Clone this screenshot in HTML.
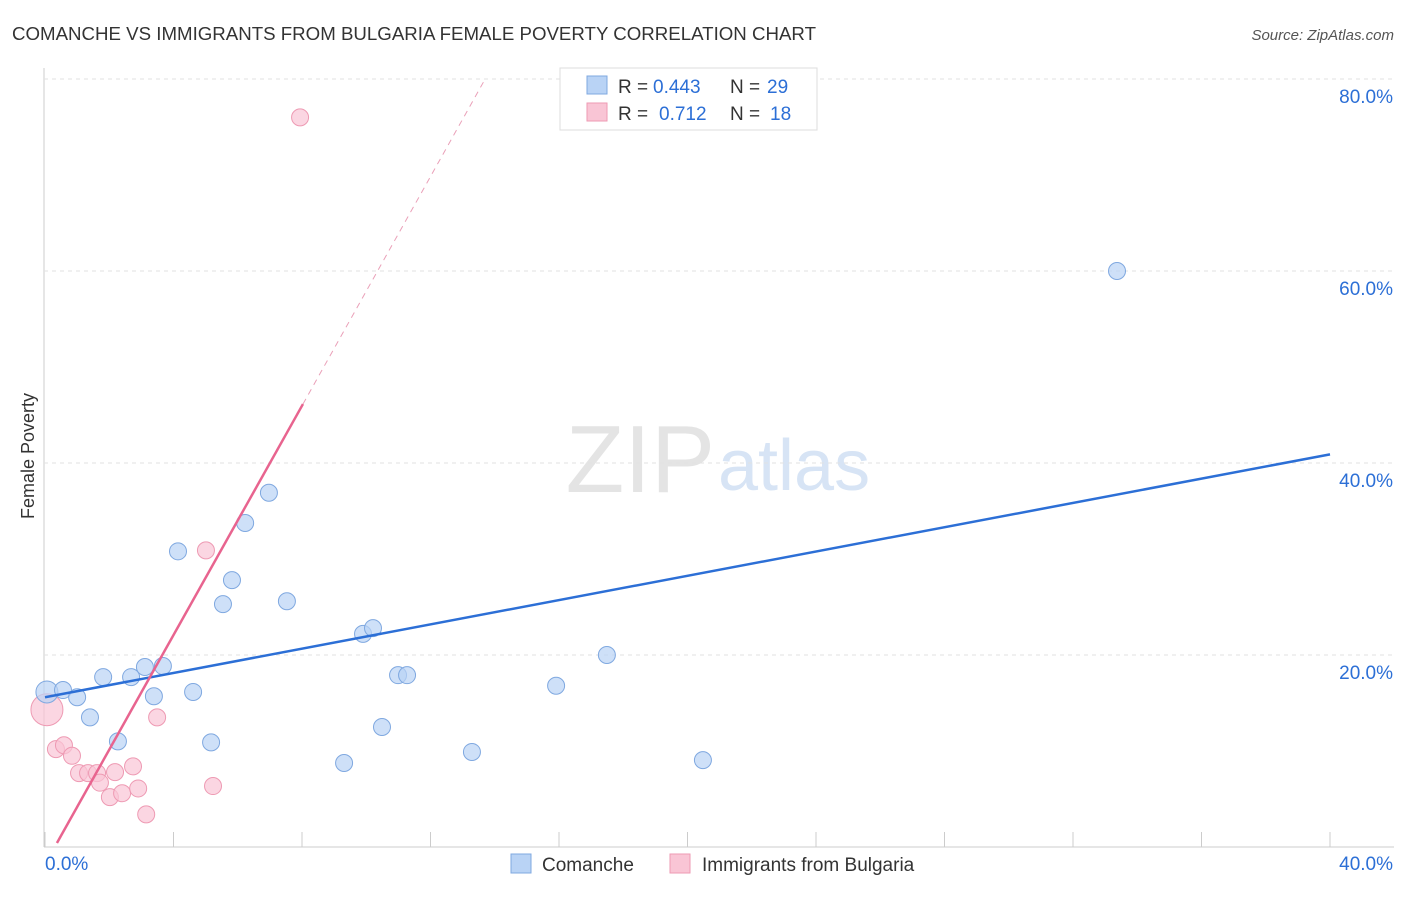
<!DOCTYPE html>
<html><head><meta charset="utf-8"><style>
body{margin:0;background:#fff;font-family:"Liberation Sans",sans-serif;}
svg text{font-family:"Liberation Sans",sans-serif;}
</style></head><body>
<svg id="c" width="1406" height="892" viewBox="0 0 1406 892">
<text x="12" y="40" font-size="18" fill="#333" textLength="804" lengthAdjust="spacingAndGlyphs">COMANCHE VS IMMIGRANTS FROM BULGARIA FEMALE POVERTY CORRELATION CHART</text>
<text x="1394" y="40" font-size="15" fill="#555" font-style="italic" text-anchor="end">Source: ZipAtlas.com</text>
<text x="715" y="492" font-size="96" fill="#e4e4e4" text-anchor="end" font-family="Liberation Serif">ZIP</text>
<text x="718" y="490" font-size="72" fill="#d7e4f5">atlas</text>
<text transform="translate(34,456) rotate(-90)" font-size="18" fill="#333" text-anchor="middle">Female Poverty</text>
<g id="grid"></g><g id="marks"></g>
<g>
<rect x="560" y="68" width="257" height="62" fill="#fff" stroke="#ddd"/>
<rect x="587" y="76" width="20" height="18" fill="#b9d3f5" stroke="#7fa8e0"/>
<rect x="587" y="103" width="20" height="18" fill="#f9c5d5" stroke="#ee9ab3"/>
<text x="618" y="93" font-size="19" fill="#333">R =</text>
<text x="653" y="93" font-size="19" fill="#2c6fd6">0.443</text>
<text x="730" y="93" font-size="19" fill="#333">N =</text>
<text x="767" y="93" font-size="19" fill="#2c6fd6">29</text>
<text x="618" y="120" font-size="19" fill="#333">R =</text>
<text x="659" y="120" font-size="19" fill="#2c6fd6">0.712</text>
<text x="730" y="120" font-size="19" fill="#333">N =</text>
<text x="770" y="120" font-size="19" fill="#2c6fd6">18</text>
</g>
<g>
<rect x="511" y="854" width="20" height="19" fill="#b9d3f5" stroke="#7fa8e0"/>
<text x="542" y="871" font-size="19" fill="#333">Comanche</text>
<rect x="670" y="854" width="20" height="19" fill="#f9c5d5" stroke="#ee9ab3"/>
<text x="702" y="871" font-size="19" fill="#333">Immigrants from Bulgaria</text>
</g>
</svg>
<script>
const xTicks=[0,40];
const yTicks=[20,40,60,80];
const blueX=[0.06,0.56,1.0,1.4,1.81,2.27,2.68,3.11,3.39,3.67,4.14,4.61,5.17,5.54,5.82,6.23,6.97,7.53,9.31,9.9,10.21,10.49,10.99,11.27,13.29,15.91,17.49,20.48,33.37];
const blueY=[16.15,16.35,15.6,13.5,17.7,11.0,17.7,18.75,15.7,18.85,30.8,16.15,10.9,25.3,27.8,33.75,36.9,25.6,8.75,22.2,22.8,12.5,17.9,17.9,9.9,16.8,20.0,9.05,60.0];
const pinkX=[0.06,0.34,0.59,0.84,1.06,1.34,1.62,1.71,2.02,2.18,2.4,2.74,2.9,3.15,3.49,5.01,5.23,7.94];
const pinkY=[14.3,10.2,10.6,9.5,7.7,7.7,7.7,6.7,5.2,7.8,5.6,8.4,6.1,3.4,13.5,30.9,6.35,76.0];
const blueFit=[15.6,0.6325];
const pinkFit=[-1.8,5.97];
const NS='http://www.w3.org/2000/svg';
const X=v=>45+v*32.125, Y=v=>847-v*9.6;
function mk(t,a,p){const e=document.createElementNS(NS,t);for(const k in a)e.setAttribute(k,a[k]);p.appendChild(e);return e;}
const g=document.getElementById('grid'),m=document.getElementById('marks');
mk('line',{x1:44,y1:68,x2:44,y2:847,stroke:'#ccc'},g);
mk('line',{x1:44,y1:847,x2:1394,y2:847,stroke:'#ccc'},g);
for(let i=0;i<=10;i++){const l=mk('line',{x1:X(i*4),y1:832,x2:X(i*4),y2:847,stroke:'#ccc'},g);

}
yTicks.forEach(v=>{const l=mk('line',{x1:44,y1:Y(v),x2:1394,y2:Y(v),stroke:'#e2e2e2','stroke-dasharray':'4,4'},g);


const t=mk('text',{x:1393,y:Y(v)+24,'font-size':19,fill:'#2c6fd6','text-anchor':'end'},g);t.textContent=v.toFixed(1)+'%';

});
xTicks.forEach((v,i)=>{const t=mk('text',{x:i?1393:45,y:870,'font-size':19,fill:'#2c6fd6','text-anchor':i?'end':'start'},g);t.textContent=v.toFixed(1)+'%';

});
pinkX.forEach((x,i)=>{const c=mk('circle',{cx:X(x),cy:Y(pinkY[i]),r:i==0?16:8.5,fill:'#f9c5d5','fill-opacity':0.7,stroke:'#ee9ab3'},m);

});
blueX.forEach((x,i)=>{const c=mk('circle',{cx:X(x),cy:Y(blueY[i]),r:i==0?11:8.5,fill:'#b9d3f5','fill-opacity':0.7,stroke:'#7fa8e0'},m);

});
let l=mk('line',{x1:X(0),y1:Y(blueFit[0]),x2:X(40),y2:Y(blueFit[0]+blueFit[1]*40),stroke:'#2c6fd6','stroke-width':2.5},m);


const x0=(0-pinkFit[0])/pinkFit[1]+0.07,x1=8.03,x2=(80-pinkFit[0])/pinkFit[1];
l=mk('line',{x1:X(x0),y1:Y(pinkFit[0]+pinkFit[1]*x0),x2:X(x1),y2:Y(pinkFit[0]+pinkFit[1]*x1),stroke:'#e8648f','stroke-width':2.5},m);


l=mk('line',{x1:X(x1),y1:Y(pinkFit[0]+pinkFit[1]*x1),x2:X(x2),y2:Y(80),stroke:'#eaa0b8','stroke-width':1,'stroke-dasharray':'6,5'},m);


</script>
</body></html>
